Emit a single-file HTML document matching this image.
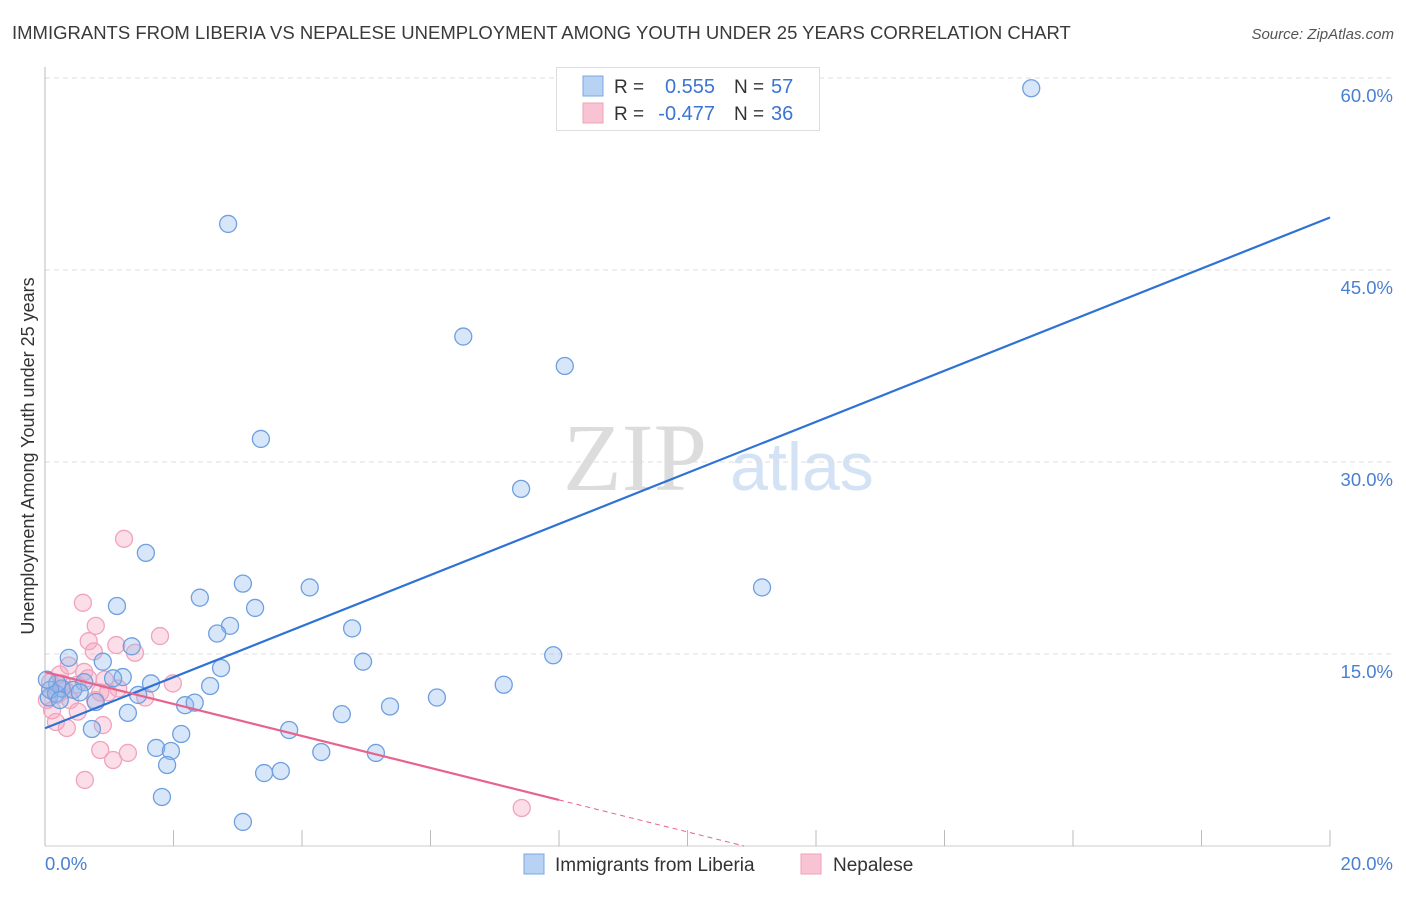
<!DOCTYPE html>
<html><head><meta charset="utf-8"><style>
body{margin:0;background:#fff;font-family:"Liberation Sans",sans-serif;}
svg text{font-family:"Liberation Sans",sans-serif;}
</style></head><body>
<svg id="chart" width="1406" height="892" xmlns="http://www.w3.org/2000/svg">
<text x="12" y="39" font-size="18.5" fill="#3a3a3a">IMMIGRANTS FROM LIBERIA VS NEPALESE UNEMPLOYMENT AMONG YOUTH UNDER 25 YEARS CORRELATION CHART</text>
<text x="1394" y="39" font-size="15" fill="#555" font-style="italic" text-anchor="end">Source: ZipAtlas.com</text>
<g>
<text x="635" y="490" font-size="96" font-family="Liberation Serif" fill="#dcdcdc" text-anchor="middle" style="font-family:'Liberation Serif',serif">ZIP</text>
<text x="802" y="490" font-size="68" fill="#d3e2f5" text-anchor="middle">atlas</text>
</g>
<g id="grid"></g>
<g id="axes"></g>
<g id="marks"></g>
<g>
<rect x="556.5" y="67.5" width="263" height="63" fill="#fff" stroke="#ddd"/>
<rect x="583" y="76" width="20" height="20" fill="#b8d2f3" stroke="#7ba7e3"/>
<rect x="583" y="103" width="20" height="20" fill="#f8c4d4" stroke="#eea0b8"/>
<text x="614" y="93" font-size="19" fill="#333">R = </text><text x="715" y="93" font-size="20" fill="#3b75d0" text-anchor="end">0.555</text>
<text x="734" y="93" font-size="19" fill="#333">N = </text><text x="771" y="93" font-size="20" fill="#3b75d0">57</text>
<text x="614" y="120" font-size="19" fill="#333">R = </text><text x="715" y="120" font-size="20" fill="#3b75d0" text-anchor="end">-0.477</text>
<text x="734" y="120" font-size="19" fill="#333">N = </text><text x="771" y="120" font-size="20" fill="#3b75d0">36</text>
</g>
<g>
<rect x="524" y="854" width="20" height="20" fill="#b8d2f3" stroke="#7ba7e3"/>
<text x="555" y="871" font-size="19" fill="#333">Immigrants from Liberia</text>
<rect x="801" y="854" width="20" height="20" fill="#f8c4d4" stroke="#eea0b8"/>
<text x="833" y="871" font-size="19" fill="#333">Nepalese</text>
</g>
<text transform="translate(34,456) rotate(-90)" font-size="18" fill="#333" text-anchor="middle">Unemployment Among Youth under 25 years</text>
</svg>
<script>
const blueX=[15.35,2.85,6.51,8.09,3.36,7.41,1.57,3.08,4.12,2.41,1.12,3.27,2.88,4.78,2.68,1.35,0.37,0.90,2.74,4.95,1.21,1.06,0.61,1.65,2.57,6.10,7.14,1.45,0.79,2.18,2.33,5.37,0.06,0.17,0.26,0.44,1.29,4.62,3.80,0.73,2.12,1.73,1.96,4.30,5.15,1.90,3.41,3.67,1.82,3.08,7.91,11.16,0.19,0.08,0.03,0.54,0.23];
const blueY=[59.2,48.6,39.8,37.5,31.8,27.9,22.9,20.5,20.2,19.4,18.75,18.6,17.2,17.0,16.6,15.6,14.7,14.4,13.9,14.4,13.2,13.1,12.8,12.7,12.5,11.6,12.6,11.8,11.25,11.0,11.2,10.9,11.6,11.9,12.3,12.2,10.4,10.3,9.06,9.14,8.75,7.66,7.42,7.34,7.27,6.33,5.70,5.86,3.83,1.88,14.9,20.2,12.7,12.2,13.0,12.0,11.4];
const pinkX=[1.23,0.59,0.79,1.79,0.68,1.11,0.76,1.40,0.37,0.23,0.19,0.61,0.50,0.93,1.14,1.99,1.56,0.86,0.08,0.31,0.98,0.51,0.17,0.34,0.90,0.86,1.29,1.06,0.62,7.42,0.03,0.11,0.67,0.26,0.39,0.78];
const pinkY=[24.0,19.0,17.2,16.4,16.0,15.7,15.2,15.1,14.1,13.4,11.8,13.6,12.6,13.0,12.3,12.7,11.6,12.0,12.8,12.2,12.0,10.5,9.69,9.22,9.45,7.5,7.27,6.72,5.16,2.97,11.4,10.6,13.1,12.7,11.4,11.4];
const blueTrend=[9.2,49.1];
const pinkTrend=[13.6,-1.25];
const yTicks=[15,30,45,60];
const yTickLabels=["15.0%","30.0%","45.0%","60.0%"];
const xTicks=[0,2,4,6,8,10,12,14,16,18,20];
const NS='http://www.w3.org/2000/svg';
const xs=v=>45+v*1285/20;
const ys=v=>846-v*192/15;
function mk(tag,attrs,parent){const e=document.createElementNS(NS,tag);for(const k in attrs)e.setAttribute(k,attrs[k]);document.getElementById(parent).appendChild(e);return e;}
yTicks.forEach((t,i)=>{
 const g=mk('line',{x1:45,x2:1393,y1:ys(t),y2:ys(t),stroke:'#ddd','stroke-dasharray':'5,4'},'grid');
 
 
 const l=mk('text',{x:1393,y:ys(t)+24,'font-size':18.5,fill:'#4a80d0','text-anchor':'end'},'axes');
 l.textContent=yTickLabels[i];
 
 
});
const ax=mk('line',{x1:45,x2:45,y1:67,y2:846,stroke:'#bbb'},'axes');


const bx=mk('line',{x1:45,x2:1330,y1:846,y2:846,stroke:'#ccc'},'axes');


xTicks.forEach(t=>{
 const tk=mk('line',{x1:xs(t),x2:xs(t),y1:830,y2:846,stroke:'#bbb'},'axes');
 
 
});
const x0=mk('text',{x:45,y:870,'font-size':18.5,fill:'#4a80d0'},'axes');x0.textContent='0.0%';


const x1=mk('text',{x:1393,y:870,'font-size':18.5,fill:'#4a80d0','text-anchor':'end'},'axes');x1.textContent='20.0%';


pinkX.forEach((x,i)=>{
 const c=mk('circle',{cx:xs(x),cy:ys(pinkY[i]),r:8.5,fill:'rgba(244,160,190,0.35)',stroke:'#f0a3bc','stroke-width':1.3},'marks');
 
 
});
blueX.forEach((x,i)=>{
 const c=mk('circle',{cx:xs(x),cy:ys(blueY[i]),r:8.5,fill:'rgba(140,185,238,0.35)',stroke:'#6f9fe0','stroke-width':1.3},'marks');
 
 
});
const bl=mk('line',{x1:xs(0),y1:ys(blueTrend[0]),x2:xs(20),y2:ys(blueTrend[1]),stroke:'#2f72d6','stroke-width':2.2},'marks');


const pEnd=8.0, pZero=-pinkTrend[0]/pinkTrend[1];
const pl=mk('line',{x1:xs(0),y1:ys(pinkTrend[0]),x2:xs(pEnd),y2:ys(pinkTrend[0]+pinkTrend[1]*pEnd),stroke:'#e8628e','stroke-width':2.2},'marks');


const pd=mk('line',{x1:xs(pEnd),y1:ys(pinkTrend[0]+pinkTrend[1]*pEnd),x2:xs(pZero),y2:ys(0),stroke:'#e8628e','stroke-width':1,'stroke-dasharray':'5,4'},'marks');


</script>
</body></html>
